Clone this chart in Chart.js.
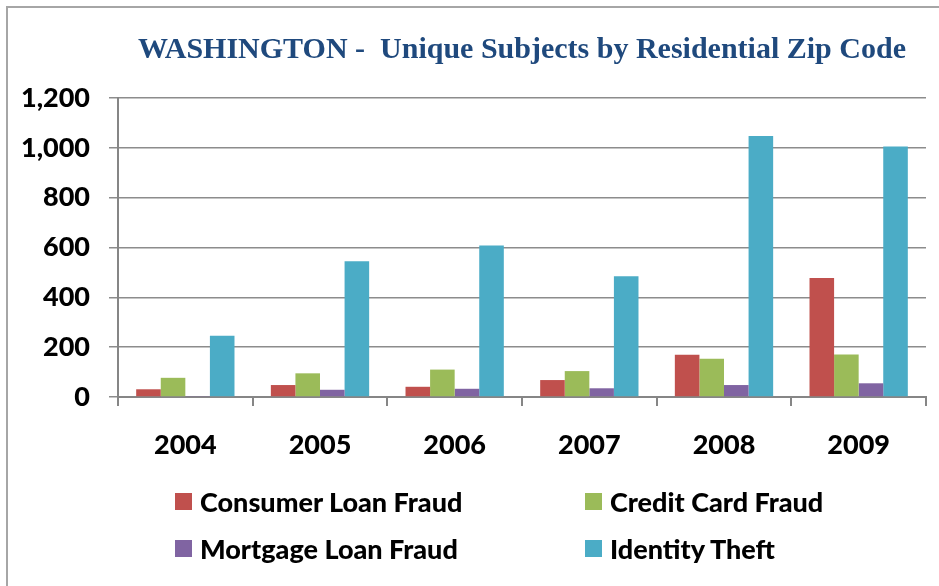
<!DOCTYPE html>
<html>
<head>
<meta charset="utf-8">
<script src="https://cdn.jsdelivr.net/npm/chart.js@4"></script>
<style>
  html, body { margin: 0; padding: 0; background: #fff; }
  #wrap { position: relative; width: 939px; height: 586px; overflow: hidden; }
  #frame { position: absolute; left: 6px; top: 6px; width: 1000px; height: 1000px; border: 2px solid #a6a6a6; }
  #chart { position: absolute; left: 0; top: 0; }
  #legend { position: absolute; left: 175px; top: 478px; display: grid; grid-template-columns: 410px auto; }
  #legend .item { display: flex; align-items: center; height: 47px; font: 900 27px Lato, "Open Sans", sans-serif; color: #000; }
  #legend .box { width: 17px; height: 17px; margin-right: 8px; }
</style>
</head>
<body>
<div id="wrap">
  <div id="frame"></div>
  <canvas id="chart" width="939" height="586"></canvas>
  <div id="legend"></div>
</div>
<script>
// Washington - unique subjects by residential zip code
var years = ["2004", "2005", "2006", "2007", "2008", "2009"];
var consumerLoan = [31, 48, 41, 68, 170, 478];
var creditCard = [77, 95, 110, 104, 154, 171];
var mortgageLoan = [4, 29, 33, 35, 48, 55];
var identityTheft = [246, 545, 608, 485, 1047, 1005];

var labelFont = 'Lato, "Open Sans", sans-serif';

let ctx = document.getElementById("chart");

function bar(label, data, color) {
  return { label: label, data: data, backgroundColor: color, borderWidth: 0 };
}

let chart = ctx && new Chart(ctx.getContext("2d"), {
  type: "bar",
  data: {
    labels: years,
    datasets: [
      bar("Consumer Loan Fraud", consumerLoan, "#C0504D"),
      bar("Credit Card Fraud", creditCard, "#9BBB59"),
      bar("Mortgage Loan Fraud", mortgageLoan, "#8064A2"),
      bar("Identity Theft", identityTheft, "#4BACC6")
    ]
  },
  options: {
    responsive: false,
    animation: false,
    categoryPercentage: 0.73,
    barPercentage: 1,
    layout: { padding: { left: 15, right: 13, top: 0, bottom: 0 } },
    plugins: {
      title: {
        display: true,
        fullSize: false,
        text: "WASHINGTON -  Unique Subjects by Residential Zip Code",
        color: "#1F497D",
        font: { family: '"Liberation Serif", "Times New Roman", serif', size: 30, weight: "bold" },
        padding: { top: 32, bottom: 30 }
      },
      legend: { display: false },
      tooltip: { enabled: false }
    },
    scales: {
      x: {
        afterFit: function (scale) { scale.height = 189; },
        grid: { drawOnChartArea: false, drawTicks: true, tickLength: 9, color: "#868686", lineWidth: 2 },
        border: { color: "#868686", width: 2 },
        ticks: { color: "#000", padding: 23, font: { family: labelFont, size: 27, weight: 900 } }
      },
      y: {
        min: 0,
        max: 1200,
        afterFit: function (scale) { scale.width = 103; },
        grid: { color: "#8c8c8c", lineWidth: 1.5, tickLength: 9 },
        border: { color: "#868686", width: 2 },
        ticks: {
          stepSize: 200,
          color: "#000",
          padding: 19,
          font: { family: labelFont, size: 27, weight: 900 },
          callback: function (v) { return v.toLocaleString("en-US"); }
        }
      }
    }
  }
});

// legend as html, two columns like the original
if (chart) {
  let legendEl = document.getElementById("legend");
  Chart.defaults.plugins.legend.labels.generateLabels(chart).forEach(function (item) {
    let row = document.createElement("div");
    row.className = "item";
    let box = document.createElement("span");
    box.className = "box";
    box.style.background = item.fillStyle;
    row.appendChild(box);
    row.appendChild(document.createTextNode(item.text));
    legendEl.appendChild(row);
  });
}
</script>
</body>
</html>
